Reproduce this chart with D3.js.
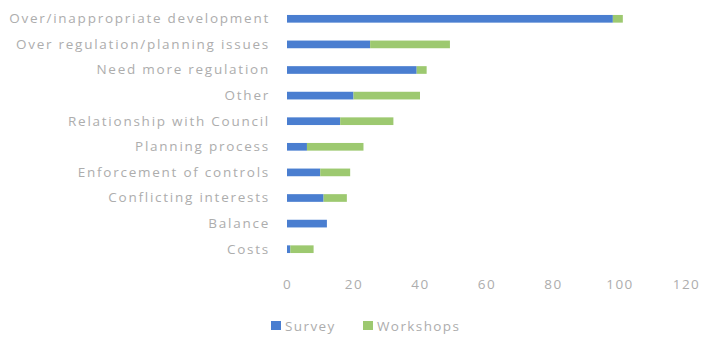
<!DOCTYPE html>
<html><head><meta charset="utf-8">
<script src="https://cdn.jsdelivr.net/npm/d3@7"></script>
<style>body{margin:0;background:#fff}svg{display:block}</style>
</head><body>
<svg id="c" width="705" height="338"></svg>
<script>
const categories = ["Over/inappropriate development","Over regulation/planning issues","Need more regulation","Other","Relationship with Council","Planning process","Enforcement of controls","Conflicting interests","Balance","Costs"];
const surveyValues = [98, 25, 39, 20, 16, 6, 10, 11, 12, 1];
const workshopValues = [3, 24, 3, 20, 16, 17, 9, 7, 0, 7];
const seriesNames = ["Survey", "Workshops"];
const xTicks = [0, 20, 40, 60, 80, 100, 120];
const colors = ["#4a7ed0", "#9dc970"];

const svg = d3.select("#c");
const x = d3.scaleLinear().domain([0, 120]).range([287, 686]);
const y = d3.scaleBand().domain(categories).range([6, 262]).paddingInner(0.7).paddingOuter(0.35);
const font = "'Open Sans', 'Liberation Sans', sans-serif";
const textCol = "#adadad";
const fs = "13.5px";
const ls = "1.75px";

const stackData = categories.map((c, i) => ({cat: c, Survey: surveyValues[i], Workshops: workshopValues[i]}));
const stacked = d3.stack().keys(seriesNames)(stackData);

svg.append("g").selectAll("g").data(stacked).join("g")
  .attr("fill", (d, i) => colors[i])
  .selectAll("rect").data(d => d).join("rect")
  .attr("x", d => x(d[0]))
  .attr("y", d => y(d.data.cat))
  .attr("width", d => Math.max(0, x(d[1]) - x(d[0])))
  .attr("height", y.bandwidth());

const yAxis = svg.append("g").attr("transform", "translate(287,0)")
  .call(d3.axisLeft(y).tickSize(0).tickPadding(17));
yAxis.select(".domain").remove();
yAxis.selectAll("text").attr("fill", textCol).style("font-family", font).style("font-size", fs).style("letter-spacing", ls);

const xAxis = svg.append("g").attr("transform", "translate(0,276)")
  .call(d3.axisBottom(x).tickValues(xTicks).tickSize(0).tickPadding(3));
xAxis.select(".domain").remove();
xAxis.selectAll("text").attr("fill", textCol).style("font-family", font).style("font-size", fs).style("letter-spacing", "1.5px");

const legend = svg.append("g").attr("transform", "translate(271,326)");
const items = legend.selectAll("g").data(seriesNames).join("g")
  .attr("transform", (d, i) => `translate(${i * 92},0)`);
items.append("rect").attr("x", 0).attr("y", -5).attr("width", 10).attr("height", 9)
  .attr("fill", (d, i) => colors[i]);
items.append("text").attr("x", 14).attr("y", 0).attr("dy", "0.35em")
  .attr("fill", textCol).style("font-family", font).style("font-size", fs).style("letter-spacing", "1.4px").text(d => d);
</script>
</body></html>
